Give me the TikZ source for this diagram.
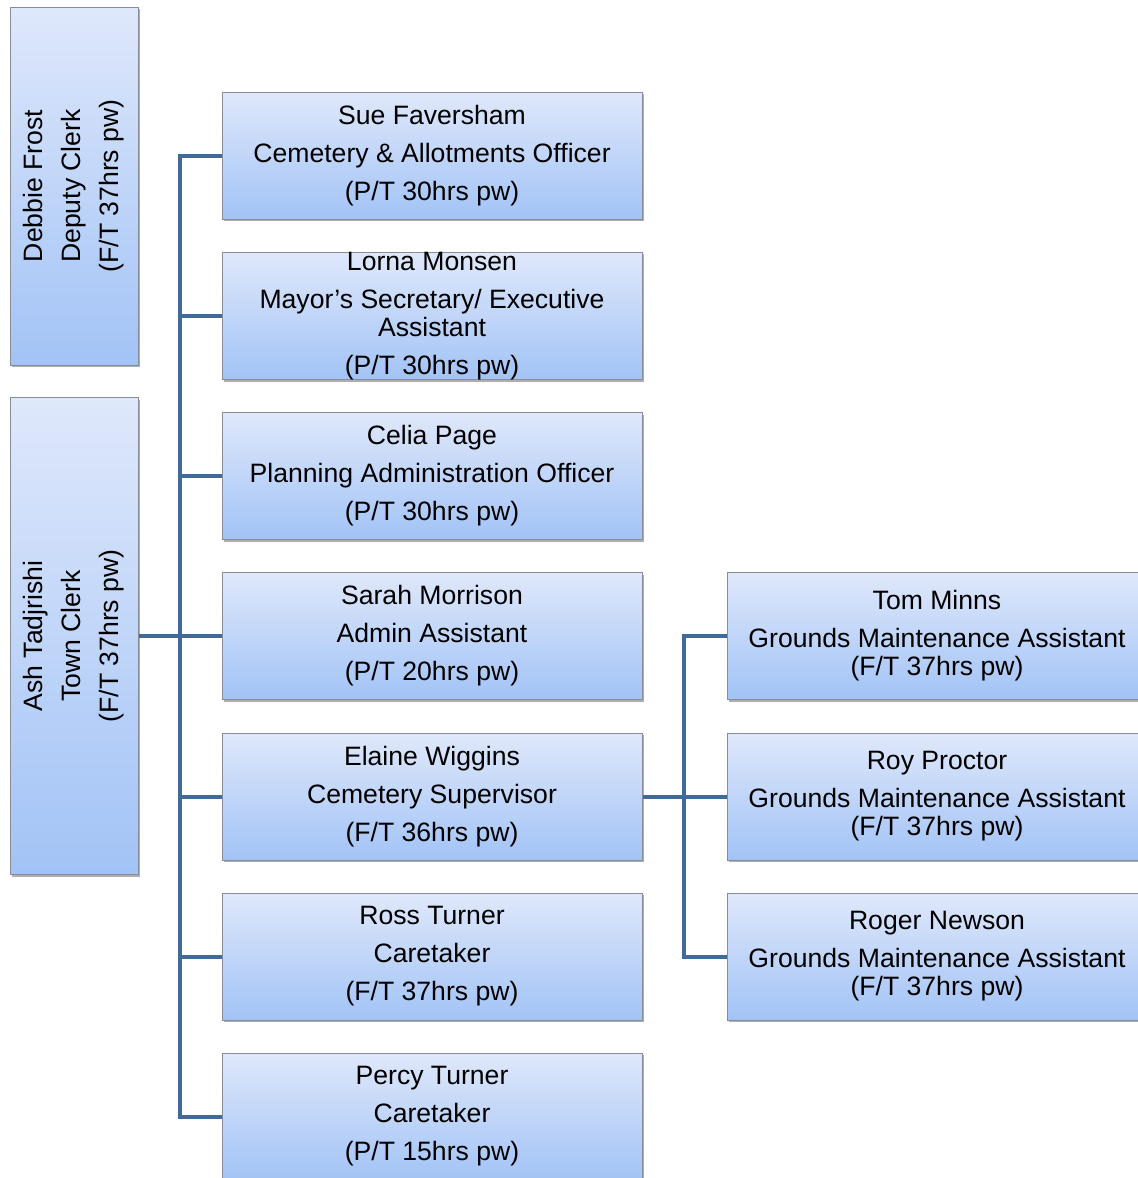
\documentclass[tikz,border=0pt]{standalone}
\usepackage{fontspec}
\setmainfont{Liberation Sans}
\usetikzlibrary{shadows}
\definecolor{boxtop}{RGB}{223,232,251}
\definecolor{boxbot}{RGB}{162,195,246}
\definecolor{boxline}{RGB}{135,140,150}
\definecolor{linkblue}{RGB}{66,106,152}
\begin{document}
\begin{tikzpicture}[x=0.5pt,y=-0.5pt,
  post/.style={draw=boxline,line width=0.5pt,top color=boxtop,bottom color=boxbot,
    minimum width=210pt,minimum height=63.5pt,inner sep=0pt,align=center,
    drop shadow={shadow xshift=1pt,shadow yshift=-1.2pt,opacity=0.45,fill=black!70}},
  tallpost/.style={post,minimum width=64pt},
  vtext/.style={rotate=90,align=center,inner sep=0pt},
  conn/.style={draw=linkblue,line width=2pt},
  font=\fontsize{13.3}{14}\selectfont]
\useasboundingbox (0,0) rectangle (1138,1178);
\clip (0,0) rectangle (1138,1178);

% clerks
\node[tallpost,minimum height=179pt] (c0) at (74,186) {};
\node[vtext] (c0t) at (c0.center) {Debbie Frost\\[5pt]Deputy Clerk\\[5pt](F/T 37hrs pw)};

\node[tallpost,minimum height=238.5pt] (t0) at (74,636) {};
\node[vtext] (t0t) at (t0.center) {Ash Tadjrishi\\[5pt]Town Clerk\\[5pt](F/T 37hrs pw)};

% staff
\node[post] (s1) at (432,155.5) {Sue Faversham\\[5pt]Cemetery \& Allotments Officer\\[5pt](P/T 30hrs pw)};
\node[post] (s2) at (432,316) {Lorna Monsen\\[5pt]Mayor’s Secretary/ Executive\\Assistant\\[5pt](P/T 30hrs pw)};
\node[post] (s3) at (432,476) {Celia Page\\[5pt]Planning Administration Officer\\[5pt](P/T 30hrs pw)};
\node[post] (s4) at (432,636) {Sarah Morrison\\[5pt]Admin Assistant\\[5pt](P/T 20hrs pw)};
\node[post] (s5) at (432,796.5) {Elaine Wiggins\\[5pt]Cemetery Supervisor\\[5pt](F/T 36hrs pw)};
\node[post] (s6) at (432,956.5) {Ross Turner\\[5pt]Caretaker\\[5pt](F/T 37hrs pw)};
\node[post] (s7) at (432,1116.5) {Percy Turner\\[5pt]Caretaker\\[5pt](P/T 15hrs pw)};

% grounds
\node[post] (g1) at (937,636) {Tom Minns\\[5pt]Grounds Maintenance Assistant\\(F/T 37hrs pw)};
\node[post] (g2) at (937,796.5) {Roy Proctor\\[5pt]Grounds Maintenance Assistant\\(F/T 37hrs pw)};
\node[post] (g3) at (937,956.5) {Roger Newson\\[5pt]Grounds Maintenance Assistant\\(F/T 37hrs pw)};

\draw[conn] (t0.east) -- (s4.west);
\draw[conn] (s1.west) -- ++(-42,0) |- (s7.west);
\draw[conn] (s2.west) -- ++(-42,0);
\draw[conn] (s3.west) -- ++(-42,0);
\draw[conn] (s5.west) -- ++(-42,0);
\draw[conn] (s6.west) -- ++(-42,0);

\draw[conn] (s5.east) -- ++(42,0);
\draw[conn] (g1.west) -- ++(-43,0) |- (g3.west);
\draw[conn] (g2.west) -- ++(-43,0);
\end{tikzpicture}
\end{document}
